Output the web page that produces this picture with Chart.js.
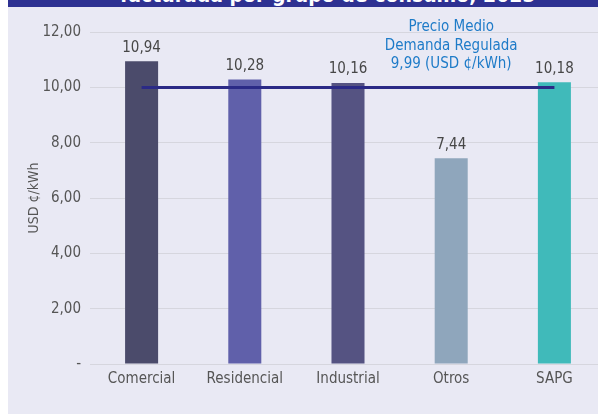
<!DOCTYPE html>
<html>
<head>
<meta charset="utf-8">
<script src="https://cdn.jsdelivr.net/npm/chart.js@4/dist/chart.umd.min.js"></script>
<style>
  html, body { margin: 0; padding: 0; background: #fff; overflow: hidden; }
  #wrap { position: relative; width: 598px; height: 414px; overflow: hidden; }
  #bg { position: absolute; left: 8px; top: 0; right: 0; bottom: 0; background: #e9e9f4; }
  #titlebar { position: absolute; left: 8px; top: 0; right: 0; height: 7px; background: #2e3192; overflow: hidden; }
  #titlebar span { position: absolute; left: 112px; top: -17px; color: #fff; font: bold 21px "Liberation Sans Narrow", "DejaVu Sans Condensed", sans-serif; white-space: nowrap; }
  #c { position: absolute; left: 0; top: 0; }
</style>
</head>
<body>
<div id="wrap">
  <div id="bg"></div>
  <div id="titlebar"><span>facturada por grupo de consumo, 2023</span></div>
  <canvas id="c" width="606" height="414" style="width:606px;height:414px"></canvas>
</div>
<script>
const categorias = ['Comercial', 'Residencial', 'Industrial', 'Otros', 'SAPG'];
const precios = [10.94, 10.28, 10.16, 7.44, 10.18];
const colores = ['#4b4b6b', '#6060aa', '#555382', '#8fa6bc', '#40baba'];
const precioMedio = 9.99;
const notaPrecio = ['Precio Medio', 'Demanda Regulada', '9,99 (USD ¢/kWh)'];

const FONT = '"Liberation Sans Narrow", "DejaVu Sans Condensed", sans-serif';
const fmt = v => v.toFixed(2).replace('.', ',');

// etiquetas de valor y nota del precio medio
const etiquetas = {
  id: 'etiquetas',
  afterDatasetsDraw(chart) {
    const ctx = chart.ctx;
    const meta = chart.getDatasetMeta(1);
    ctx.save();
    ctx.font = '15px ' + FONT;
    ctx.fillStyle = '#474747';
    ctx.textAlign = 'center';
    ctx.textBaseline = 'bottom';
    meta.data.forEach((bar, i) => {
      ctx.fillText(fmt(precios[i]), bar.x, bar.y - 6);
    });
    const y = chart.scales.y.getPixelForValue(precioMedio);
    const x = chart.scales.x.getPixelForValue(3);
    ctx.fillStyle = '#1e7bc8';
    ctx.textBaseline = 'middle';
    ctx.font = '15px ' + FONT;
    [-61, -42, -24].forEach((dy, i) => ctx.fillText(notaPrecio[i], x, y + dy));
    ctx.restore();
  }
};

new Chart(document.getElementById('c'), {
  type: 'bar',
  data: {
    labels: categorias,
    datasets: [
      { type: 'line', data: categorias.map(() => precioMedio), borderColor: '#2b2a86', borderWidth: 3, pointRadius: 0, order: 0 },
      { type: 'bar', data: precios, backgroundColor: colores, barPercentage: 0.32, categoryPercentage: 1, order: 1 }
    ]
  },
  options: {
    responsive: false,
    animation: false,
    layout: { padding: { left: 8, top: 32, right: 0, bottom: 0 } },
    plugins: { legend: { display: false }, tooltip: { enabled: false } },
    scales: {
      x: {
        grid: { display: false },
        border: { display: false },
        ticks: { color: '#555', font: { family: FONT, size: 15 }, padding: -2 },
        afterFit: s => { s.height = 50; }
      },
      y: {
        min: 0, max: 12,
        ticks: { stepSize: 2, color: '#555', font: { family: FONT, size: 15 }, padding: 9,
          callback: v => v === 0 ? '-' : fmt(v) },
        grid: { color: '#d6d6de', drawTicks: false },
        border: { display: false },
        title: { display: true, text: 'USD ¢/kWh', color: '#555', font: { family: FONT, size: 14 }, padding: { top: 18 } },
        afterFit: s => { s.width = 82; }
      }
    }
  },
  plugins: [etiquetas]
});
</script>
</body>
</html>
